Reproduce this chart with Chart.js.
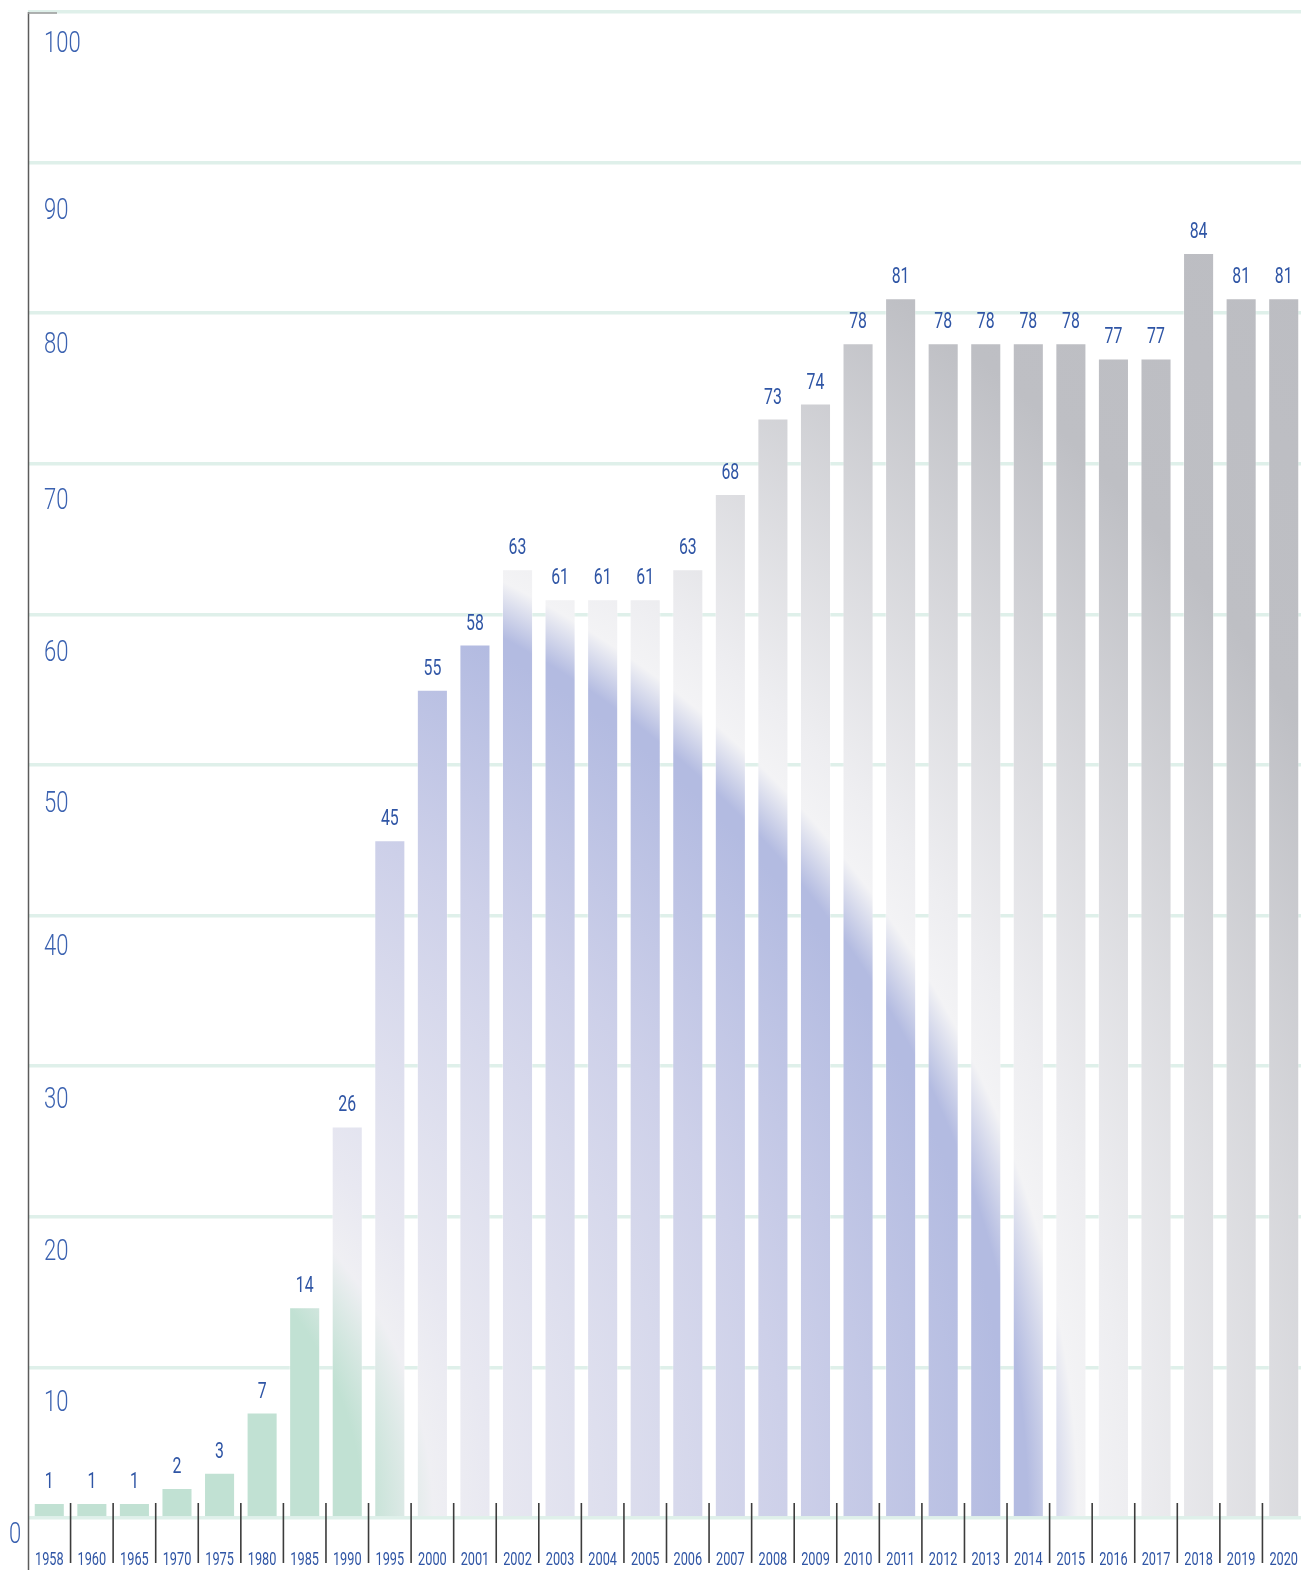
<!DOCTYPE html>
<html>
<head>
<meta charset="utf-8">
<script src="https://cdn.jsdelivr.net/npm/chart.js@4"></script>
<style>
  html, body { margin: 0; padding: 0; background: #fff; overflow: hidden; width: 1301px; height: 1570px; }
  canvas { display: block; }
</style>
</head>
<body>
<!-- plot runs a few px past the right edge, like the original -->
<canvas id="chart" width="1305" height="1570"></canvas>
<script>
/* DATA */
const years = ["1958", "1960", "1965", "1970", "1975", "1980", "1985", "1990", "1995",
  "2000", "2001", "2002", "2003", "2004", "2005", "2006", "2007", "2008", "2009", "2010",
  "2011", "2012", "2013", "2014", "2015", "2016", "2017", "2018", "2019", "2020"];
const values = [1, 1, 1, 2, 3, 7, 14, 26, 45,
  55, 58, 63, 61, 61, 61, 63, 68, 73, 74, 78,
  81, 78, 78, 78, 78, 77, 77, 84, 81, 81];
const yTicks = [0, 10, 20, 30, 40, 50, 60, 70, 80, 90, 100];

/* STYLE */
const textBlue = "#2f55a5";
// label baseline below each grid line
const yLabelDrop = { 0: 25, 10: 44, 20: 43, 30: 42, 40: 39, 50: 47, 60: 47, 70: 45, 80: 40, 90: 56, 100: 40 };

let fill = null;

function barFill(c) {
  const chart = c.chart;
  const area = chart.chartArea;
  if (!area) return "#c1e1d3";
  if (fill) return fill;
  const R = 1800;
  const g = chart.ctx.createRadialGradient(area.left, area.bottom, 0, area.left, area.bottom, R);
  g.addColorStop(0, "#c1e1d3");
  g.addColorStop(335 / R, "#c1e1d3");
  g.addColorStop(405 / R, "#efeff3");
  g.addColorStop(465 / R, "#e8e8f1");
  g.addColorStop(760 / R, "#cdd0e9");
  g.addColorStop(985 / R, "#b3bbe1");
  g.addColorStop(1000 / R, "#b3bbe1");
  g.addColorStop(1050 / R, "#f3f3f5");
  g.addColorStop(1100 / R, "#eeeef1");
  g.addColorStop(1500 / R, "#bebfc4");
  g.addColorStop(1, "#bcbdc2");
  fill = g;
  return g;
}

function squeezed(ctx, text, x, y, sx, align) {
  ctx.save();
  ctx.translate(x, y);
  ctx.scale(sx, 1);
  ctx.textAlign = align;
  ctx.textBaseline = "alphabetic";
  ctx.fillText(text, 0, 0);
  ctx.restore();
}

/* LABELS, AXIS LINE, SEPARATORS */
const decor = {
  id: "decor",
  afterDraw(chart) {
    const ctx = chart.ctx;
    const area = chart.chartArea;
    const xs = chart.scales.x;
    const ys = chart.scales.y;

    // value labels
    ctx.fillStyle = textBlue;
    ctx.font = "400 22px Roboto";
    chart.getDatasetMeta(0).data.forEach((bar, i) => {
      squeezed(ctx, String(values[i]), bar.x, bar.y - 15, 0.72, "center");
    });

    // axis line
    ctx.strokeStyle = "#5c5c5c";
    ctx.lineWidth = 1.5;
    ctx.beginPath();
    ctx.moveTo(area.left + 0.5, ys.getPixelForValue(100));
    ctx.lineTo(area.left + 0.5, chart.height);
    ctx.stroke();
    ctx.strokeStyle = "#9a9a9a";
    ctx.beginPath();
    ctx.moveTo(area.left, ys.getPixelForValue(100) + 1);
    ctx.lineTo(area.left + 29, ys.getPixelForValue(100) + 1);
    ctx.stroke();

    // category separators
    ctx.strokeStyle = "#3c3c3c";
    ctx.lineWidth = 1.6;
    for (let i = 1; i < years.length; i++) {
      const x = (xs.getPixelForValue(i - 1) + xs.getPixelForValue(i)) / 2;
      ctx.beginPath();
      ctx.moveTo(x, area.bottom - 15);
      ctx.lineTo(x, area.bottom + 45);
      ctx.stroke();
    }

    // year labels
    ctx.fillStyle = textBlue;
    ctx.font = "400 19px Roboto";
    years.forEach((y, i) => {
      squeezed(ctx, y, xs.getPixelForValue(i), area.bottom + 47, 0.67, "center");
    });

    // y labels
    ctx.fillStyle = "#3a61b0";
    ctx.font = "300 29px Roboto";
    yTicks.forEach(v => {
      const py = ys.getPixelForValue(v) + yLabelDrop[v];
      const px = v === 0 ? 9 : area.left + 16;
      squeezed(ctx, String(v), px, py, 0.76, "left");
    });
  }
};

/* CHART */
new Chart(document.getElementById("chart"), {
  type: "bar",
  data: {
    labels: years,
    datasets: [{
      data: values,
      backgroundColor: barFill,
      borderColor: "rgba(255,255,255,0.35)",
      borderWidth: 1,
      barPercentage: 0.73,
      categoryPercentage: 1
    }]
  },
  options: {
    responsive: false,
    animation: false,
    layout: { padding: { top: 12, left: 0, right: 0, bottom: 0 } },
    plugins: { legend: { display: false }, tooltip: { enabled: false } },
    scales: {
      x: {
        ticks: { display: false },
        grid: { display: false },
        border: { display: false },
        afterFit(s) { s.height = 52; }
      },
      y: {
        min: 0,
        max: 100,
        z: 1,
        ticks: { display: false, stepSize: 10 },
        grid: { color: "#dff0ea", lineWidth: 3.5, drawTicks: false },
        border: { display: false },
        afterFit(s) { s.width = 28; }
      }
    }
  },
  plugins: [decor]
});
</script>
</body>
</html>
